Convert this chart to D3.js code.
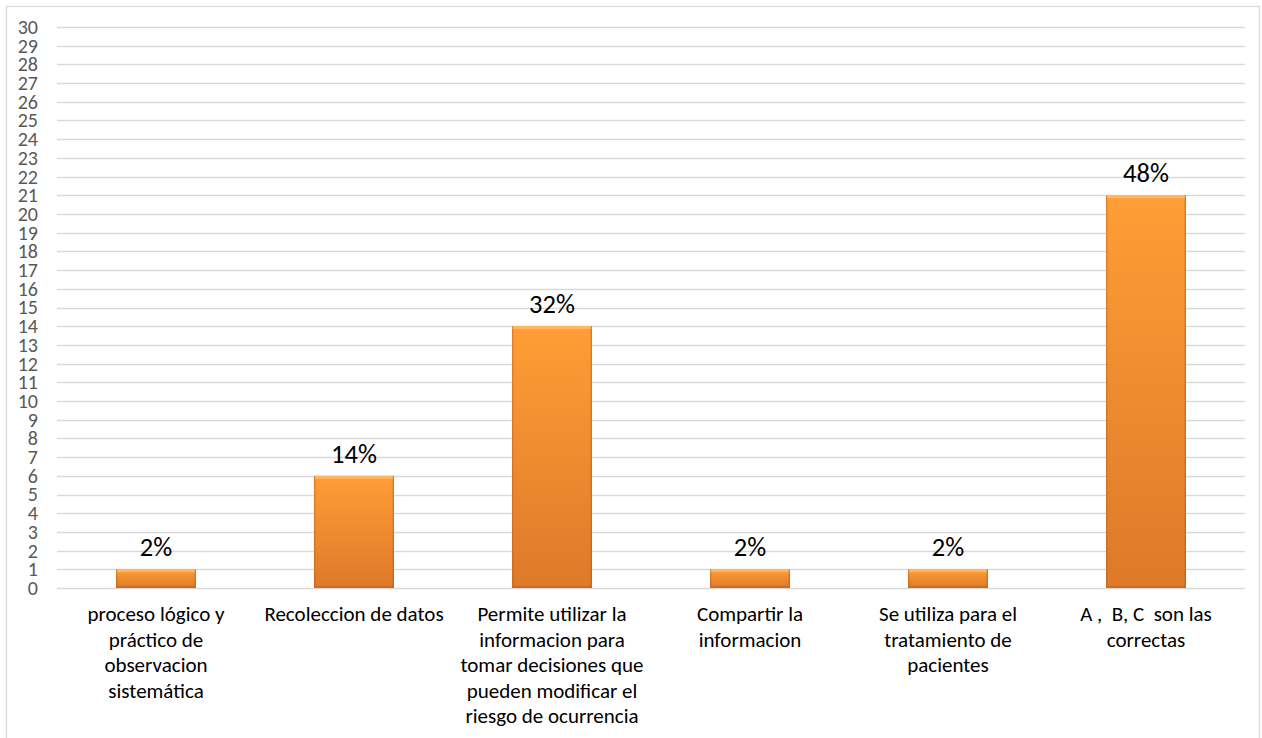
<!DOCTYPE html>
<html>
<head>
<meta charset="utf-8">
<script src="https://cdn.jsdelivr.net/npm/d3@7"></script>
<style>
  html, body { margin: 0; padding: 0; background: #fff; }
  svg { display: block; }
  text { font-family: Carlito, Calibri, Lato, "Liberation Sans", sans-serif; }
</style>
</head>
<body>
<svg id="chart" width="1262" height="738"></svg>
<script>
// Survey answers: how many respondents picked each option
const categories = [
  "proceso lógico y\npráctico de\nobservacion\nsistemática",
  "Recoleccion de datos",
  "Permite utilizar la\ninformacion para\ntomar decisiones que\npueden modificar el\nriesgo de ocurrencia",
  "Compartir la\ninformacion",
  "Se utiliza para el\ntratamiento de\npacientes",
  "A ,  B, C  son las\ncorrectas"
];
const counts = [1, 6, 14, 1, 1, 21];
const yTicks = d3.range(0, 31);

const total = d3.sum(counts);
const pct = counts.map(v => Math.round(v / total * 100) + "%");

const W = 1262, H = 738;
const margin = { left: 57, right: 17, top: 27, bottom: 150 };
const svg = d3.select("#chart");

// outer chart frame
svg.append("rect")
  .attr("x", 6.5).attr("y", 6.5)
  .attr("width", 1253).attr("height", 760)
  .attr("fill", "#fff").attr("stroke", "#d9d9d9").attr("stroke-width", 1.3);

const x = d3.scaleBand()
  .domain(d3.range(categories.length))
  .range([margin.left, W - margin.right])
  .paddingInner(0.596).paddingOuter(0.298);

const y = d3.scaleLinear()
  .domain([0, 30])
  .range([588, margin.top]);

// gridlines
svg.append("g")
  .selectAll("line")
  .data(yTicks)
  .join("line")
  .attr("x1", margin.left).attr("x2", W - margin.right)
  .attr("y1", d => Math.round(y(d)) + 0.5).attr("y2", d => Math.round(y(d)) + 0.5)
  .attr("stroke", "#d9d9d9").attr("stroke-width", 1.3);

// y axis labels
const yAxis = d3.axisLeft(y).tickValues(yTicks).tickSize(0).tickPadding(0);
const gy = svg.append("g").attr("transform", "translate(38,0)").call(yAxis);
gy.select(".domain").remove();
gy.selectAll("text")
  .attr("fill", "#595959")
  .style("font-size", "20px")
  .style("font-family", "Carlito, Calibri, Lato, sans-serif");

// bar shading
const defs = svg.append("defs");
const grad = defs.append("linearGradient")
  .attr("id", "barFill").attr("x1", 0).attr("y1", 0).attr("x2", 0).attr("y2", 1);
grad.append("stop").attr("offset", "0%").attr("stop-color", "#ff9d36");
grad.append("stop").attr("offset", "100%").attr("stop-color", "#de7929");

const sideGrad = defs.append("linearGradient")
  .attr("id", "barSide").attr("x1", 0).attr("y1", 0).attr("x2", 1).attr("y2", 0);
sideGrad.append("stop").attr("offset", "0%").attr("stop-color", "#a04f10").attr("stop-opacity", 0.4);
sideGrad.append("stop").attr("offset", "3%").attr("stop-color", "#a04f10").attr("stop-opacity", 0);
sideGrad.append("stop").attr("offset", "97%").attr("stop-color", "#a04f10").attr("stop-opacity", 0);
sideGrad.append("stop").attr("offset", "100%").attr("stop-color", "#a04f10").attr("stop-opacity", 0.5);

const bars = svg.append("g")
  .selectAll("g")
  .data(counts)
  .join("g");

bars.append("rect")
  .attr("x", (d, i) => x(i))
  .attr("y", d => y(d))
  .attr("width", x.bandwidth())
  .attr("height", d => y(0) - y(d))
  .attr("fill", "url(#barFill)");

bars.append("rect")
  .attr("x", (d, i) => x(i))
  .attr("y", d => y(d))
  .attr("width", x.bandwidth())
  .attr("height", d => y(0) - y(d))
  .attr("fill", "url(#barSide)");

// top bevel highlight
bars.append("rect")
  .attr("x", (d, i) => x(i) + 1)
  .attr("y", d => y(d))
  .attr("width", x.bandwidth() - 2)
  .attr("height", 3)
  .attr("fill", "#ffc878").attr("opacity", 0.6);

// bottom bevel shade
bars.append("rect")
  .attr("x", (d, i) => x(i) + 1)
  .attr("y", d => y(0) - 2)
  .attr("width", x.bandwidth() - 2)
  .attr("height", 2)
  .attr("fill", "#b85f1a").attr("opacity", 0.5);

// percentage labels
svg.append("g")
  .selectAll("text")
  .data(counts)
  .join("text")
  .attr("x", (d, i) => x(i) + x.bandwidth() / 2)
  .attr("y", d => y(d) - 13)
  .attr("text-anchor", "middle")
  .attr("fill", "#000")
  .style("font-size", "26.5px")
  .text((d, i) => pct[i]);

// category labels
const cat = svg.append("g")
  .selectAll("text")
  .data(categories)
  .join("text")
  .attr("x", (d, i) => x(i) + x.bandwidth() / 2)
  .attr("y", 621)
  .attr("text-anchor", "middle")
  .attr("fill", "#000")
  .style("font-size", "21px")
  .style("white-space", "pre");

cat.each(function (d, i) {
  const t = d3.select(this);
  d.split("\n").forEach((line, k) => {
    t.append("tspan")
      .attr("x", x(i) + x.bandwidth() / 2)
      .attr("y", 621 + k * 25.6)
      .text(line);
  });
});
</script>
</body>
</html>
